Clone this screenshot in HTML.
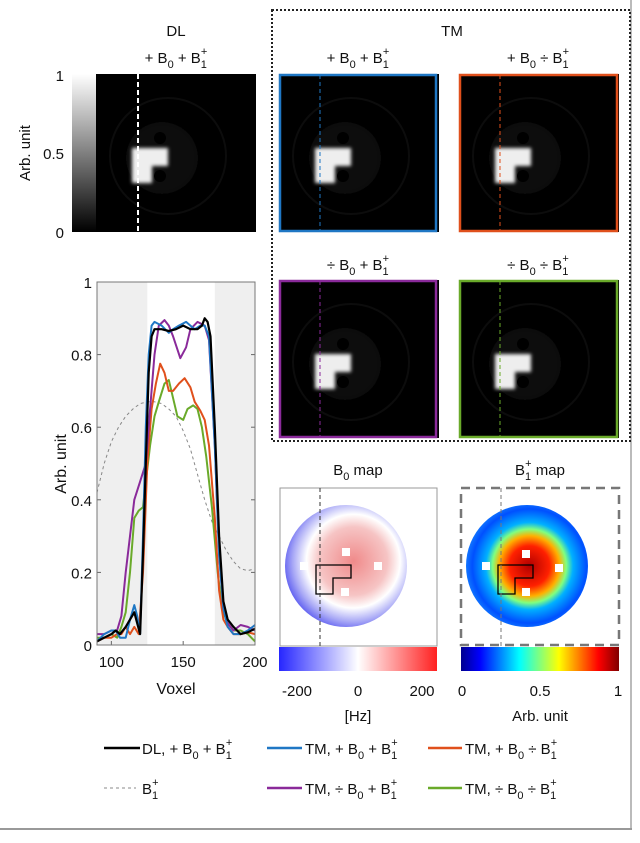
<!DOCTYPE html>
<html><head><meta charset="utf-8"><style>
body{margin:0;width:640px;height:838px;background:#fff;overflow:hidden;font-family:"Liberation Sans",Arial,sans-serif}
svg text{font-family:"Liberation Sans",Arial,sans-serif;fill:#111}
</style></head><body>
<svg width="640" height="838" viewBox="0 0 640 838">
<defs>
  <filter id="blur3"><feGaussianBlur stdDeviation="3"/></filter>
  <filter id="blur1"><feGaussianBlur stdDeviation="1.8"/></filter>
  <linearGradient id="gray" x1="0" y1="1" x2="0" y2="0"><stop offset="0" stop-color="#000"/><stop offset="1" stop-color="#fff"/></linearGradient>
  <linearGradient id="bwr" x1="0" x2="1"><stop offset="0" stop-color="#2626ff"/><stop offset="0.5" stop-color="#fff"/><stop offset="1" stop-color="#ff2020"/></linearGradient>
  <linearGradient id="jet" x1="0" x2="1"><stop offset="0" stop-color="#00008f"/><stop offset="0.12" stop-color="#0000ff"/><stop offset="0.37" stop-color="#00ffff"/><stop offset="0.62" stop-color="#ffff00"/><stop offset="0.87" stop-color="#ff0000"/><stop offset="1" stop-color="#800000"/></linearGradient>
  <radialGradient id="b0g" cx="0.56" cy="0.46" r="0.62"><stop offset="0" stop-color="#f08a8a"/><stop offset="0.45" stop-color="#f6c4c4"/><stop offset="0.62" stop-color="#ffffff"/><stop offset="0.8" stop-color="#a8a8f6"/><stop offset="1" stop-color="#3a3aee"/></radialGradient>
  <radialGradient id="b1g" cx="0.52" cy="0.5" r="0.55"><stop offset="0" stop-color="#b00000"/><stop offset="0.3" stop-color="#ff2000"/><stop offset="0.45" stop-color="#ffb000"/><stop offset="0.55" stop-color="#80ff80"/><stop offset="0.65" stop-color="#00b0ff"/><stop offset="0.85" stop-color="#0050ff"/><stop offset="1" stop-color="#1a8aff"/></radialGradient>
  <g id="mri">
    <rect x="0" y="0" width="160" height="158" fill="#000"/>
    <circle cx="72" cy="82" r="58" fill="none" stroke="#0c0c0c" stroke-width="2"/>
    <circle cx="66" cy="84" r="36" fill="#0a0a0a" filter="url(#blur3)"/>
    <g filter="url(#blur1)" fill="#eee">
      <rect x="36" y="74" width="36" height="18"/>
      <rect x="36" y="90" width="20" height="19"/>
    </g>
    <circle cx="64" cy="64" r="6" fill="#000"/>
    <circle cx="64" cy="102" r="6" fill="#000"/>
  </g>
</defs>
<rect x="0" y="0" width="630" height="828" fill="#fff"/>
<line x1="631" y1="0" x2="631" y2="829" stroke="#bbb" stroke-width="2"/>
<line x1="0" y1="829" x2="632" y2="829" stroke="#999" stroke-width="2"/>

<g>
<text x="176" y="36" font-size="15" text-anchor="middle">DL</text>
<text x="176" y="63" font-size="15" text-anchor="middle">+ B<tspan font-size="11" dy="5">0</tspan><tspan dy="-5"> + B</tspan><tspan font-size="11" dy="5" dx="0">1</tspan><tspan font-size="11" dx="-6" dy="-13">+</tspan></text>
<rect x="72" y="74" width="24" height="158" fill="url(#gray)"/>
<use href="#mri" x="96" y="74"/>
<line x1="138" y1="74" x2="138" y2="232" stroke="#fff" stroke-width="2" stroke-dasharray="5,3"/>
<text x="64" y="81" font-size="15" text-anchor="end">1</text>
<text x="64" y="159" font-size="15" text-anchor="end">0.5</text>
<text x="64" y="238" font-size="15" text-anchor="end">0</text>
<text transform="translate(30,153) rotate(-90)" font-size="15" text-anchor="middle">Arb. unit</text>
</g>

<rect x="272" y="10" width="358" height="431" fill="none" stroke="#222" stroke-width="2" stroke-dasharray="2,2"/>
<text x="452" y="36" font-size="15" text-anchor="middle">TM</text>
<g font-size="15">
<text x="358" y="63" text-anchor="middle">+ B<tspan font-size="11" dy="5">0</tspan><tspan dy="-5"> + B</tspan><tspan font-size="11" dy="5">1</tspan><tspan font-size="11" dx="-6" dy="-13">+</tspan></text>
<text x="538" y="63" text-anchor="middle">+ B<tspan font-size="11" dy="5">0</tspan><tspan dy="-5"> ÷ B</tspan><tspan font-size="11" dy="5">1</tspan><tspan font-size="11" dx="-6" dy="-13">+</tspan></text>
<text x="358" y="270" text-anchor="middle">÷ B<tspan font-size="11" dy="5">0</tspan><tspan dy="-5"> + B</tspan><tspan font-size="11" dy="5">1</tspan><tspan font-size="11" dx="-6" dy="-13">+</tspan></text>
<text x="538" y="270" text-anchor="middle">÷ B<tspan font-size="11" dy="5">0</tspan><tspan dy="-5"> ÷ B</tspan><tspan font-size="11" dy="5">1</tspan><tspan font-size="11" dx="-6" dy="-13">+</tspan></text>
</g>
<g>
<use href="#mri" x="279" y="74"/><rect x="280" y="75" width="156" height="156" fill="none" stroke="#1f77c4" stroke-width="2.5"/><line x1="320" y1="75" x2="320" y2="231" stroke="#1f77c4" stroke-dasharray="4,3"/>
<use href="#mri" x="459" y="74"/><rect x="460" y="75" width="157" height="156" fill="none" stroke="#e0501c" stroke-width="2.5"/><line x1="500" y1="75" x2="500" y2="231" stroke="#e0501c" stroke-dasharray="4,3"/>
<use href="#mri" x="279" y="280"/><rect x="280" y="281" width="156" height="156" fill="none" stroke="#8a2a9a" stroke-width="2.5"/><line x1="320" y1="281" x2="320" y2="437" stroke="#8a2a9a" stroke-dasharray="4,3"/>
<use href="#mri" x="459" y="280"/><rect x="460" y="281" width="157" height="156" fill="none" stroke="#6aaa2a" stroke-width="2.5"/><line x1="500" y1="281" x2="500" y2="437" stroke="#6aaa2a" stroke-dasharray="4,3"/>
</g>

<g>
<text x="358" y="475" font-size="15" text-anchor="middle">B<tspan font-size="11" dy="5">0</tspan><tspan dy="-5"> map</tspan></text>
<rect x="280" y="488" width="157" height="158" fill="#fff" stroke="#999"/>
<circle cx="346" cy="566" r="61" fill="url(#b0g)"/>
<rect x="342" y="548" width="8" height="8" fill="#fff"/><rect x="374" y="562" width="8" height="8" fill="#fff"/><rect x="300" y="562" width="8" height="8" fill="#fff"/><rect x="341" y="588" width="8" height="8" fill="#fff"/>
<path d="M316,565 H351 V578 H333 V594 H316 Z" fill="none" stroke="#000" stroke-width="1.3"/>
<line x1="320" y1="488" x2="320" y2="646" stroke="#333" stroke-dasharray="4,3"/>
<rect x="279" y="647" width="158" height="24" fill="url(#bwr)"/>
<text x="297" y="696" font-size="15" text-anchor="middle">-200</text>
<text x="358" y="696" font-size="15" text-anchor="middle">0</text>
<text x="422" y="696" font-size="15" text-anchor="middle">200</text>
<text x="358" y="721" font-size="15" text-anchor="middle">[Hz]</text>
</g>
<g>
<text x="540" y="475" font-size="15" text-anchor="middle">B<tspan font-size="11" dy="5">1</tspan><tspan font-size="11" dx="-6" dy="-13">+</tspan><tspan dy="8"> map</tspan></text>
<circle cx="527" cy="566" r="61" fill="url(#b1g)"/>
<rect x="522" y="550" width="8" height="8" fill="#fff"/><rect x="555" y="564" width="8" height="8" fill="#fff"/><rect x="482" y="562" width="8" height="8" fill="#fff"/><rect x="522" y="588" width="8" height="8" fill="#fff"/>
<path d="M498,565 H533 V578 H515 V594 H498 Z" fill="none" stroke="#000" stroke-width="1.3"/>
<line x1="501" y1="488" x2="501" y2="646" stroke="#777" stroke-dasharray="4,3"/>
<rect x="461" y="488" width="158" height="157" fill="none" stroke="#777" stroke-width="2.5" stroke-dasharray="9,6"/>
<rect x="461" y="647" width="158" height="24" fill="url(#jet)"/>
<text x="462" y="696" font-size="15" text-anchor="middle">0</text>
<text x="540" y="696" font-size="15" text-anchor="middle">0.5</text>
<text x="618" y="696" font-size="15" text-anchor="middle">1</text>
<text x="540" y="721" font-size="15" text-anchor="middle">Arb. unit</text>
</g>

<g id="chart"></g>

<g font-size="15">
<g><line x1="104" y1="748" x2="140" y2="748" stroke="#000" stroke-width="2.5"/><text x="142" y="754">DL, + B<tspan font-size="11" dy="5">0</tspan><tspan dy="-5"> + B</tspan><tspan font-size="11" dy="5">1</tspan><tspan font-size="11" dx="-6" dy="-13">+</tspan></text></g>
<g><line x1="267" y1="748" x2="302" y2="748" stroke="#1f77c4" stroke-width="2.5"/><text x="305" y="754">TM, + B<tspan font-size="11" dy="5">0</tspan><tspan dy="-5"> + B</tspan><tspan font-size="11" dy="5">1</tspan><tspan font-size="11" dx="-6" dy="-13">+</tspan></text></g>
<g><line x1="428" y1="748" x2="462" y2="748" stroke="#e0501c" stroke-width="2.5"/><text x="465" y="754">TM, + B<tspan font-size="11" dy="5">0</tspan><tspan dy="-5"> ÷ B</tspan><tspan font-size="11" dy="5">1</tspan><tspan font-size="11" dx="-6" dy="-13">+</tspan></text></g>
<g><line x1="104" y1="788" x2="136" y2="788" stroke="#888" stroke-width="1" stroke-dasharray="3,3"/><text x="142" y="794">B<tspan font-size="11" dy="5">1</tspan><tspan font-size="11" dx="-6" dy="-13">+</tspan></text></g>
<g><line x1="267" y1="788" x2="302" y2="788" stroke="#8a2a9a" stroke-width="2.5"/><text x="305" y="794">TM, ÷ B<tspan font-size="11" dy="5">0</tspan><tspan dy="-5"> + B</tspan><tspan font-size="11" dy="5">1</tspan><tspan font-size="11" dx="-6" dy="-13">+</tspan></text></g>
<g><line x1="428" y1="788" x2="462" y2="788" stroke="#6aaa2a" stroke-width="2.5"/><text x="465" y="794">TM, ÷ B<tspan font-size="11" dy="5">0</tspan><tspan dy="-5"> ÷ B</tspan><tspan font-size="11" dy="5">1</tspan><tspan font-size="11" dx="-6" dy="-13">+</tspan></text></g>
</g>
</svg>
<script>
const xTicks=[100,150,200];
const yTicks=[0,0.2,0.4,0.6,0.8,1];
const yTickLabels=["0","0.2","0.4","0.6","0.8","1"];
const shadeRanges=[[90,125],[172,200]];
const b1X=[90,95,100,105,110,115,120,125,130,135,140,145,150,155,160,165,170,175,180,185,190,195,200];
const b1Y=[0.42,0.5,0.56,0.6,0.63,0.65,0.665,0.67,0.67,0.665,0.65,0.63,0.59,0.54,0.47,0.4,0.34,0.3,0.26,0.23,0.21,0.205,0.21];
const greenX=[90,95,100,104,107,110,113,116,119,122,124,127,130,133,137,140,143,146,150,153,157,160,163,166,170,174,177,181,185,190,195,200];
const greenY=[0.02,0.02,0.03,0.02,0.05,0.09,0.2,0.35,0.37,0.38,0.45,0.55,0.63,0.67,0.72,0.73,0.68,0.63,0.62,0.65,0.66,0.65,0.6,0.52,0.38,0.2,0.1,0.06,0.04,0.04,0.03,0.01];
const orangeX=[90,95,100,104,107,110,113,116,119,122,125,128,131,134,137,140,143,147,151,155,158,162,165,168,172,175,178,181,185,190,195,200];
const orangeY=[0.01,0.02,0.02,0.03,0.03,0.05,0.03,0.05,0.03,0.2,0.5,0.65,0.72,0.775,0.75,0.7,0.7,0.72,0.735,0.71,0.67,0.645,0.62,0.55,0.35,0.15,0.07,0.05,0.03,0.03,0.035,0.03];
const purpleX=[90,95,100,104,107,110,113,116,120,124,127,130,133,137,140,143,148,152,155,160,165,168,172,175,178,181,185,190,195,200];
const purpleY=[0.03,0.03,0.04,0.04,0.08,0.2,0.3,0.4,0.45,0.5,0.65,0.8,0.88,0.895,0.88,0.85,0.79,0.82,0.87,0.89,0.88,0.84,0.55,0.25,0.1,0.06,0.04,0.055,0.05,0.04];
const blueX=[90,95,100,103,106,110,113,116,118,120,122,124,126,128,130,135,140,143,147,152,155,158,162,165,168,172,175,178,181,185,190,195,200];
const blueY=[0.01,0.03,0.04,0.04,0.02,0.02,0.07,0.11,0.08,0.03,0.3,0.6,0.8,0.88,0.89,0.88,0.86,0.87,0.88,0.89,0.88,0.87,0.88,0.88,0.85,0.55,0.25,0.1,0.05,0.03,0.03,0.04,0.055];
const blackX=[90,95,100,103,106,110,113,116,118,120,122,124,126,128,130,135,140,145,150,155,160,163,165,167,169,172,175,178,181,185,190,195,200];
const blackY=[0.01,0.02,0.03,0.04,0.03,0.05,0.07,0.09,0.06,0.03,0.25,0.5,0.75,0.85,0.87,0.87,0.865,0.87,0.88,0.87,0.87,0.88,0.9,0.89,0.85,0.6,0.3,0.12,0.07,0.05,0.03,0.035,0.045];

const NS='http://www.w3.org/2000/svg';
const L=97,R=255,T=282,B=645;
const sx=v=>L+(v-90)/(200-90)*(R-L);
const sy=v=>B-v*(B-T);
const g=document.getElementById('chart');
function mk(tag,attrs,parent){const e=document.createElementNS(NS,tag);for(const k in attrs)e.setAttribute(k,attrs[k]);(parent||g).appendChild(e);return e;}
mk('rect',{x:L,y:T,width:R-L,height:B-T,fill:'#fff'});
shadeRanges.forEach(r=>{
  const e=mk('rect',{x:sx(r[0]),y:T,width:sx(r[1])-sx(r[0]),height:B-T,fill:'#efefef'});
  
  
});
yTicks.forEach((t,i)=>{
  mk('line',{x1:L,x2:L+4,y1:sy(t),y2:sy(t),stroke:'#666'});
  mk('line',{x1:R-4,x2:R,y1:sy(t),y2:sy(t),stroke:'#666'});
  const tx=mk('text',{x:L-5,y:sy(t)+6,'font-size':15,'text-anchor':'end'});
  tx.textContent=yTickLabels[i];
  
  
});
xTicks.forEach(t=>{
  mk('line',{x1:sx(t),x2:sx(t),y1:B,y2:B-4,stroke:'#666'});
  const tx=mk('text',{x:sx(t),y:B+22,'font-size':15,'text-anchor':'middle'});
  tx.textContent=t;
  
  
});
const xt=mk('text',{x:(L+R)/2,y:694,'font-size':16,'text-anchor':'middle'});xt.textContent='Voxel';


const yt=mk('text',{transform:'translate(66,464) rotate(-90)','font-size':16,'text-anchor':'middle'});yt.textContent='Arb. unit';


function line(xs,ys,color,w,dash,name){
  const d=xs.map((x,i)=>(i?'L':'M')+sx(x).toFixed(1)+','+sy(ys[i]).toFixed(1)).join('');
  const p=mk('path',{d:d,fill:'none',stroke:color,'stroke-width':w,'stroke-linejoin':'round'});
  if(dash)p.setAttribute('stroke-dasharray',dash);
  
  
}
line(b1X,b1Y,'#888',1,'3,3','b1-profile-line');
line(greenX,greenY,'#6aaa2a',2,null,'tm-div-b0-div-b1-line');
line(orangeX,orangeY,'#e0501c',2,null,'tm-b0-div-b1-line');
line(purpleX,purpleY,'#8a2a9a',2,null,'tm-div-b0-b1-line');
line(blueX,blueY,'#1f77c4',2,null,'tm-b0-b1-line');
line(blackX,blackY,'#000',2.2,null,'dl-b0-b1-line');
mk('rect',{x:L,y:T,width:R-L,height:B-T,fill:'none',stroke:'#777'});
</script>
</body></html>
